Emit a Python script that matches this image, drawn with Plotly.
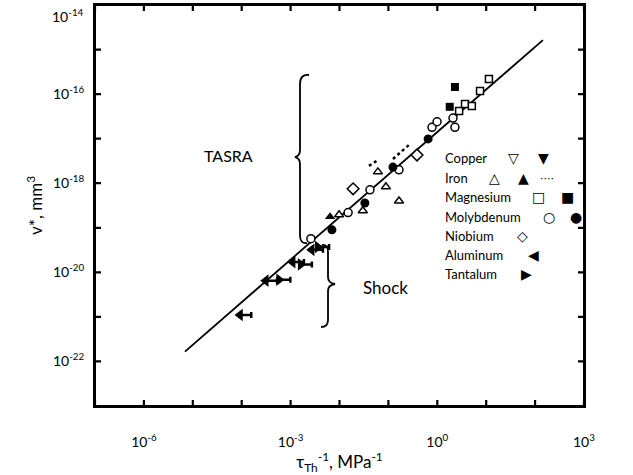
import math
import plotly.graph_objects as go

# ---------------- data ----------------
line_x = [6.9e-6, 145]
line_y = [1.66e-22, 1.64e-15]

aluminum_x = [9.2e-5, 3.1e-4, 1.1e-3, 2.7e-3]
aluminum_y = [1.1e-21, 6.5e-21, 1.7e-20, 3.2e-20]

tantalum_x = [5.8e-4, 1.6e-3, 3.6e-3]
tantalum_y = [6.8e-21, 1.5e-20, 3.7e-20]

moly_open_x = [2.6e-3, 1.5e-2, 4.2e-2, 0.165, 0.78, 0.99, 2.1, 2.3]
moly_open_y = [5.7e-20, 2.2e-19, 7.1e-19, 2.0e-18, 1.8e-17, 2.4e-17, 2.9e-17, 1.8e-17]

moly_fill_x = [7.0e-3, 3.3e-2, 0.124, 0.65]
moly_fill_y = [9.0e-20, 3.6e-19, 2.3e-18, 9.9e-18]

iron_open_x = [9.8e-3, 3.0e-2, 6.1e-2, 8.9e-2, 0.165]
iron_open_y = [1.95e-19, 2.4e-19, 1.8e-18, 8.3e-19, 4.0e-19]

iron_fill_x = [6.4e-3]
iron_fill_y = [1.77e-19]

iron_dot1_x = [0.040, 0.058]
iron_dot1_y = [2.45e-18, 3.2e-18]
iron_dot2_x = [0.124, 0.277]
iron_dot2_y = [3.5e-18, 7.6e-18]

mg_open_x = [2.8, 3.7, 5.1, 7.5, 11.4]
mg_open_y = [4.2e-17, 6.0e-17, 5.4e-17, 1.18e-16, 2.2e-16]

mg_fill_x = [2.3, 1.8]
mg_fill_y = [1.45e-16, 5.2e-17]

niobium_x = [1.9e-2, 0.385]
niobium_y = [7.5e-19, 4.3e-18]

x_tickvals = [1e-7, 1e-6, 1e-5, 1e-4, 1e-3, 1e-2, 1e-1, 1e0, 1e1, 1e2, 1e3]
x_ticktext = ["", "10<sup>-6</sup>", "", "", "10<sup>-3</sup>", "", "", "10<sup>0</sup>", "", "", "10<sup>3</sup>"]
y_tickvals = [1e-23, 1e-22, 1e-21, 1e-20, 1e-19, 1e-18, 1e-17, 1e-16, 1e-15, 1e-14]
y_ticktext = ["", "10<sup>-22</sup>", "", "10<sup>-20</sup>", "", "10<sup>-18</sup>", "", "10<sup>-16</sup>", "", "10<sup>-14</sup>"]

legend_names = ["Copper", "Iron", "Magnesium", "Molybdenum", "Niobium", "Aluminum", "Tantalum"]
legend_symbols = [["▽", "▼"], ["△", "▲", "····"], ["□", "■"], ["○", "●"], ["◇"], ["◀"], ["▶"]]

# ---------------- figure ----------------
FONT = "Lato, 'Open Sans', sans-serif"
W, H = 633, 475
L, R, T, B = 95, 49, 5, 69
PW, PH = W - L - R, H - T - B
XR = [-7, 3]
YR = [-23, -14]


def px(x):
    return (x - L) / PW


def py(y):
    return (H - B - y) / PH


fig = go.Figure()

fig.add_trace(go.Scatter(x=line_x, y=line_y, mode="lines",
                         line=dict(color="black", width=1.8), showlegend=False))

for dx, dy in [(iron_dot1_x, iron_dot1_y), (iron_dot2_x, iron_dot2_y)]:
    fig.add_trace(go.Scatter(x=dx, y=dy, mode="lines",
                             line=dict(color="black", width=2.5, dash="dot"), showlegend=False))

open_style = dict(color="white", line=dict(color="black", width=1.5))

fig.add_trace(go.Scatter(x=moly_open_x, y=moly_open_y, mode="markers", showlegend=False,
                         marker=dict(symbol="circle", size=8, **open_style)))
fig.add_trace(go.Scatter(x=iron_open_x, y=iron_open_y, mode="markers", showlegend=False,
                         marker=dict(symbol="triangle-up", size=8, **open_style)))
fig.add_trace(go.Scatter(x=mg_open_x, y=mg_open_y, mode="markers", showlegend=False,
                         marker=dict(symbol="square", size=7, **open_style)))
fig.add_trace(go.Scatter(x=niobium_x, y=niobium_y, mode="markers", showlegend=False,
                         marker=dict(symbol="diamond", size=9, **open_style)))
fig.add_trace(go.Scatter(x=moly_fill_x, y=moly_fill_y, mode="markers", showlegend=False,
                         marker=dict(symbol="circle", size=9, color="black")))
fig.add_trace(go.Scatter(x=iron_fill_x, y=iron_fill_y, mode="markers", showlegend=False,
                         marker=dict(symbol="triangle-up", size=9, color="black")))
fig.add_trace(go.Scatter(x=mg_fill_x, y=mg_fill_y, mode="markers", showlegend=False,
                         marker=dict(symbol="square", size=8, color="black")))

tail = dict(type="percent", symmetric=False, value=70, valueminus=0,
            color="black", thickness=2.5, width=3)
fig.add_trace(go.Scatter(x=aluminum_x, y=aluminum_y, mode="markers", showlegend=False,
                         error_x=tail,
                         marker=dict(symbol="triangle-left", size=11, color="black")))
fig.add_trace(go.Scatter(x=tantalum_x, y=tantalum_y, mode="markers", showlegend=False,
                         error_x=tail,
                         marker=dict(symbol="triangle-right", size=11, color="black")))

# ---------- frame and inside ticks (one path) ----------
fig.add_shape(type="rect", x0=0, x1=1, y0=0, y1=1, xref="paper", yref="paper",
              line=dict(color="black", width=2), layer="above")
TLX = 6 / PH
TLY = 6 / PW
tick_path = ""
for tv in x_tickvals:
    xp = (math.log10(tv) - XR[0]) / (XR[1] - XR[0])
    tick_path += f"M {xp:.4f},0 L {xp:.4f},{TLX:.4f} M {xp:.4f},1 L {xp:.4f},{1 - TLX:.4f} "
for tv in y_tickvals:
    yp = (math.log10(tv) - YR[0]) / (YR[1] - YR[0])
    tick_path += f"M 0,{yp:.4f} L {TLY:.4f},{yp:.4f} M 1,{yp:.4f} L {1 - TLY:.4f},{yp:.4f} "
fig.add_shape(type="path", path=tick_path.strip(), xref="paper", yref="paper",
              line=dict(color="black", width=2.2), layer="above")


def path(points):
    s = ""
    for cmd, pts in points:
        s += cmd + " " + " ".join(f"{px(a):.4f},{py(b):.4f}" for a, b in pts) + " "
    return s.strip()


tasra = path([("M", [(309, 75)]), ("Q", [(300, 74), (300, 84)]), ("L", [(300, 150)]),
              ("Q", [(300, 156), (295, 157)]), ("Q", [(300, 158), (300, 164)]),
              ("L", [(300, 235)]), ("Q", [(300, 244), (307, 243)])])
shock = path([("M", [(322, 245)]), ("Q", [(328, 244), (328, 252)]), ("L", [(328, 277)]),
              ("Q", [(328, 283), (335, 284)]), ("Q", [(328, 285), (328, 291)]),
              ("L", [(328, 320)]), ("Q", [(328, 327), (321, 327)])])
for p in (tasra, shock):
    fig.add_shape(type="path", path=p, xref="paper", yref="paper",
                  line=dict(color="black", width=1.8))


def label(text, x, y, size, family=FONT, xanchor="center"):
    fig.add_annotation(text=text, x=px(x), y=py(y), xref="paper", yref="paper",
                       xanchor=xanchor, yanchor="middle", showarrow=False,
                       font=dict(family=family, size=size, color="black"))


label("TASRA", 228, 155, 16)
label("Shock", 385, 287, 17)

# top y tick label sits just inside the figure edge, as in the original
label(y_ticktext[-1], 86, 15, 14, xanchor="right")
y_ticktext_axis = y_ticktext[:-1] + [""]

# ---------- legend (text) ----------
row_y = [158, 178, 197, 217, 236, 255, 274]
sym_x = [[513, 543], [494, 523, 547], [538, 567], [549, 576], [522], [533], [526]]
for name, yy, syms, xs in zip(legend_names, row_y, legend_symbols, sym_x):
    label(name, 443, yy, 13, xanchor="left")
    for s, xx in zip(syms, xs):
        label(s, xx, yy, 14 if s != "····" else 11, family="DejaVu Sans")

axis_common = dict(type="log", showgrid=False, zeroline=False, showline=True,
                   linecolor="black", linewidth=2, mirror=True, ticks="",
                   automargin=False,
                   tickfont=dict(family=FONT, size=14, color="black"))

fig.update_layout(
    width=W, height=H, margin=dict(l=L, r=R, t=T, b=B),
    paper_bgcolor="white", plot_bgcolor="white", showlegend=False,
    xaxis=dict(range=[XR[0] - 0.002, XR[1] + 0.002], tickvals=x_tickvals, ticktext=x_ticktext,
               ticklabelstandoff=22,
               title=dict(text="τ<sub>Th</sub><sup>-1</sup>, MPa<sup>-1</sup>",
                          font=dict(family=FONT, size=17, color="black"), standoff=3),
               **axis_common),
    yaxis=dict(range=[YR[0] - 0.002, YR[1] + 0.002], tickvals=y_tickvals,
               ticktext=y_ticktext_axis, ticklabelstandoff=6,
               title=dict(text="v*, mm<sup>3</sup>",
                          font=dict(family=FONT, size=17, color="black"), standoff=6),
               **axis_common),
)

fig.write_html("out.html", config={"displayModeBar": False},
               post_script="document.body.style.margin='0';")
